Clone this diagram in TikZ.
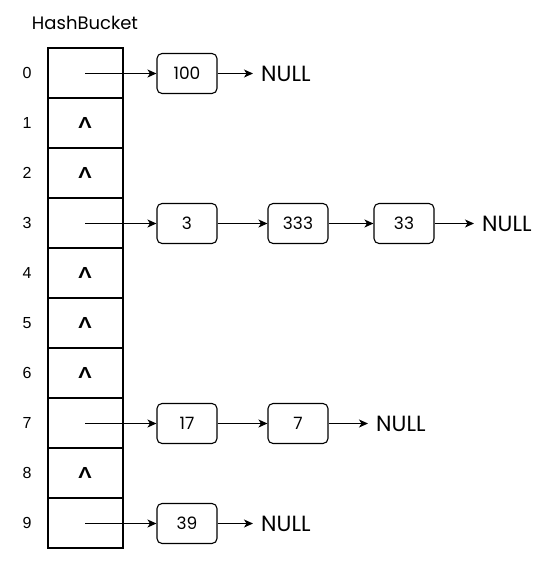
\documentclass[tikz,border=0pt]{standalone}
\usepackage{fontspec}
\setmainfont{Liberation Sans}
\newfontfamily\comicf{Poppins}
\usetikzlibrary{arrows.meta}
\tikzset{
  cell/.style={draw, line width=1.2pt, minimum width=75pt, minimum height=50pt, inner sep=0pt, anchor=center},
  idx/.style={font=\fontsize{16}{16}\selectfont, inner sep=0pt},
  item/.style={draw, line width=1.1pt, rounded corners=5pt, minimum width=60pt, minimum height=40pt, inner sep=0pt, font=\comicf\fontsize{17}{17}\selectfont},
  nul/.style={font=\comicf\fontsize{22}{22}\selectfont, inner sep=0pt, anchor=west},
  caret/.style={font=\bfseries\fontsize{16}{16}\selectfont, inner sep=0pt, xscale=1.25},
  link/.style={-{Stealth[length=9pt,width=8pt,inset=2.5pt]}, line width=1.1pt},
}
\begin{document}
\begin{tikzpicture}[x=1pt,y=-1pt]
\useasboundingbox (0,0) rectangle (547,563);
\node[font=\comicf\fontsize{18}{18}\selectfont, inner sep=0pt] (title) at (85,23) {HashBucket};
\foreach \i in {0,...,9} {
  \node[cell] (c\i) at (85.5,{73+50*\i}) {};
  \node[idx] (i\i) at (27,{73+50*\i}) {\i};
}
\foreach \i in {1,2,4,5,6,8} {
  \node[caret] (k\i) at (85,{73+50*\i}) {Λ};
}
\foreach \i in {0,3,7,9} {
  \coordinate (s\i) at (85,{73.5+50*\i});
}
% row 0
\node[item] (a100) at (187,73.5) {100};
\node[nul] (n0) at (261,73.5) {NULL};
\draw[link] (s0) -- (a100.west);
\draw[link,shorten >=8pt] (a100.east) -- (n0.west);
% row 3
\node[item] (a3) at (187,223.5) {3};
\node[item] (a333) at (298,223.5) {333};
\node[item] (a33) at (404,223.5) {33};
\node[nul] (n3) at (482,223.5) {NULL};
\draw[link] (s3) -- (a3.west);
\draw[link] (a3.east) -- (a333.west);
\draw[link] (a333.east) -- (a33.west);
\draw[link,shorten >=8pt] (a33.east) -- (n3.west);
% row 7
\node[item] (a17) at (187,423.5) {17};
\node[item] (a7) at (298,423.5) {7};
\node[nul] (n7) at (376,423.5) {NULL};
\draw[link] (s7) -- (a17.west);
\draw[link] (a17.east) -- (a7.west);
\draw[link,shorten >=8pt] (a7.east) -- (n7.west);
% row 9
\node[item] (a39) at (187,523.5) {39};
\node[nul] (n9) at (261,523.5) {NULL};
\draw[link] (s9) -- (a39.west);
\draw[link,shorten >=8pt] (a39.east) -- (n9.west);
\end{tikzpicture}
\end{document}
